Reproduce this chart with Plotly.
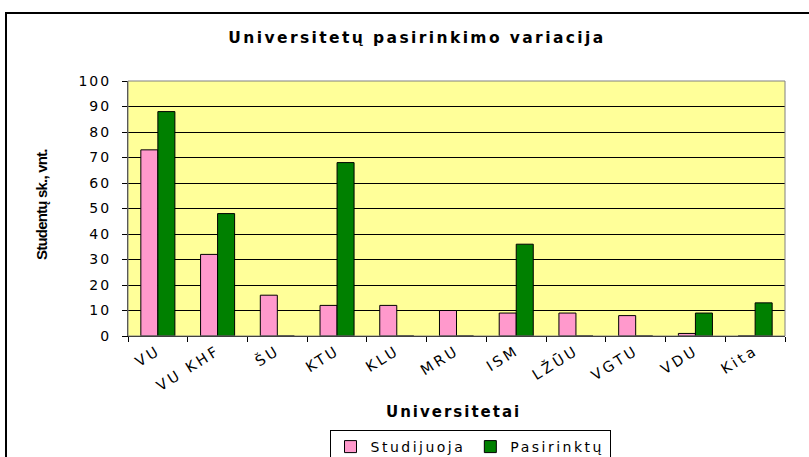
import plotly.graph_objects as go

categories = ["VU", "VU KHF", "ŠU", "KTU", "KLU", "MRU", "ISM", "LŽŪU", "VGTU", "VDU", "Kita"]
studijuoja = [73, 32, 16, 12, 12, 10, 9, 9, 8, 1, 0]
pasirinktu = [88, 48, 0, 68, 0, 0, 36, 0, 0, 9, 13]
y_ticks = [0, 10, 20, 30, 40, 50, 60, 70, 80, 90, 100]

W, H = 809, 457
L, R, T, B = 128, 24, 81, 121
PW, PH = W - L - R, H - T - B
FONT = "DejaVu Sans, Arial, sans-serif"


def sp(text, px):
    return f'<span style="letter-spacing:{px}px">{text}</span>'


def px_x(x):
    return (x - L) / PW


def px_y(y):
    return (H - B - y) / PH


fig = go.Figure()
fig.add_trace(go.Bar(x=categories, y=studijuoja, name=sp("Studijuoja", 2.5),
                     marker=dict(color="#FF99CC", line=dict(color="black", width=1))))
fig.add_trace(go.Bar(x=categories, y=pasirinktu, name=sp("Pasirinktų", 2.5),
                     marker=dict(color="#008000", line=dict(color="black", width=1))))

fig.update_layout(
    width=W, height=H,
    margin=dict(l=L, r=R, t=T, b=B, autoexpand=False),
    paper_bgcolor="white",
    plot_bgcolor="#FFFF99",
    barmode="group",
    bargap=0.43,
    bargroupgap=0,
    font=dict(family=FONT, size=14, color="black"),
    title=dict(text="<b>" + sp("Universitetų pasirinkimo variacija", 2.4) + "</b>", x=417 / W, xanchor="center",
               y=1 - 38 / H, yanchor="middle", font=dict(size=15.5)),
    showlegend=True,
    legend=dict(orientation="h", x=px_x(470), xanchor="center", y=px_y(430),
                yanchor="top", bordercolor="black", borderwidth=1, bgcolor="white",
                font=dict(size=14), tracegroupgap=0),
    xaxis=dict(tickangle=-32, ticks="outside", ticklen=5, tickcolor="black",
               tickson="boundaries", showline=True, linecolor="black", linewidth=1,
               showgrid=False, tickfont=dict(size=14.5), automargin=False,
               tickmode="array", tickvals=categories, ticktext=[sp(c, 3) for c in categories]),
    yaxis=dict(range=[0, 100], tickvals=y_ticks, ticktext=[sp(str(v), 2) for v in y_ticks],
               ticks="outside", ticklen=5, tickcolor="black", ticklabelstandoff=8,
               showline=True, linecolor="#303030", linewidth=1, showgrid=True,
               gridcolor="black", gridwidth=1, zeroline=False, tickfont=dict(size=14), automargin=False),
    annotations=[
        dict(text="<b>" + sp("Universitetai", 2) + "</b>", xref="paper", yref="paper",
             x=px_x(453), y=px_y(412), xanchor="center", yanchor="middle",
             showarrow=False, font=dict(size=15)),
        dict(text="<b>" + sp("Studentų sk., vnt.", -0.8) + "</b>", xref="paper", yref="paper", textangle=-90,
             x=px_x(41), y=px_y(205), xanchor="center", yanchor="middle",
             showarrow=False, font=dict(size=15, family="Liberation Sans Narrow, Arial Narrow, Liberation Sans, Arial")),
    ],
    shapes=[
        dict(type="rect", xref="paper", yref="paper", x0=0, x1=1, y0=0, y1=1,
             line=dict(color="#808080", width=1), fillcolor="rgba(0,0,0,0)", layer="above"),
        dict(type="rect", xref="paper", yref="paper",
             x0=px_x(6), x1=px_x(W + 20), y0=px_y(H + 20), y1=px_y(13),
             line=dict(color="black", width=2), fillcolor="rgba(0,0,0,0)"),
    ],
)

fig.write_html("out.html", config={"displayModeBar": False},
               post_script="document.body.style.margin='0';")
